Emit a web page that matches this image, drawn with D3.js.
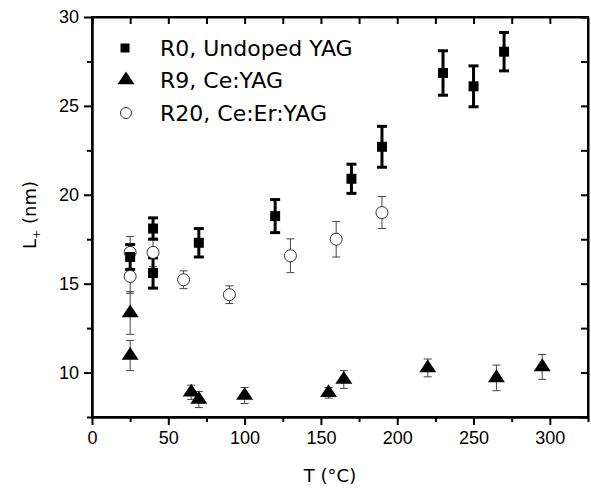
<!DOCTYPE html>
<html>
<head>
<meta charset="utf-8">
<script src="https://cdn.jsdelivr.net/npm/d3@7"></script>
<style>
  body { margin: 0; background: white; }
  svg { font-family: "DejaVu Sans", sans-serif; }
  .axis path, .axis line { stroke: black; stroke-width: 2; }
  .axis text { font-size: 18px; fill: black; }
</style>
</head>
<body>
<script>
// ---- data: [T (°C), L+ (nm), error] ----
const r0Temp  = [25, 40, 40, 70, 120, 170, 190, 230, 250, 270];
const r0L     = [16.5, 18.1, 15.6, 17.3, 18.8, 20.9, 22.7, 26.85, 26.1, 28.05];
const r0Err   = [0.7, 0.6, 0.85, 0.8, 0.93, 0.82, 1.15, 1.25, 1.15, 1.08];

const r9Temp  = [25, 25, 65, 70, 100, 155, 165, 220, 265, 295];
const r9L     = [13.35, 10.96, 8.89, 8.48, 8.71, 8.86, 9.61, 10.26, 9.7, 10.32];
const r9Err   = [1.2, 0.85, 0.4, 0.45, 0.45, 0.3, 0.5, 0.5, 0.72, 0.7];

const r20Temp = [25, 25, 40, 60, 90, 130, 160, 190];
const r20L    = [16.76, 15.41, 16.76, 15.22, 14.38, 16.57, 17.5, 19.0];
const r20Err  = [0.9, 0.95, 0.8, 0.5, 0.5, 0.95, 1.0, 0.9];

const legendLabels = ["R0, Undoped YAG", "R9, Ce:YAG", "R20, Ce:Er:YAG"];
const xMajor = [0, 50, 100, 150, 200, 250, 300];
const xMinor = [25, 75, 125, 175, 225, 275, 325];
const yMajor = [10, 15, 20, 25, 30];
const yMinor = [7.5, 12.5, 17.5, 22.5, 27.5];

const width = 591, height = 496;
const mLeft = 92, mRight = 588, mTop = 17, mBottom = 417;

const svg = d3.select("body").append("svg")
  .attr("width", width).attr("height", height);

const x = d3.scaleLinear().domain([0, 325]).range([mLeft, mRight]);
const y = d3.scaleLinear().domain([7.5, 30]).range([mBottom, mTop]);

// ---- axes ----
// bottom: labelled majors + minors, outward
svg.append("g").classed("axis", true)
  .attr("transform", "translate(0," + mBottom + ")")
  .call(d3.axisBottom(x).tickValues(xMajor).tickSize(8).tickPadding(6).tickSizeOuter(0));
svg.append("g").classed("axis", true)
  .attr("transform", "translate(0," + mBottom + ")")
  .call(d3.axisBottom(x).tickValues(xMinor).tickSize(5).tickFormat("").tickSizeOuter(0));
// left
svg.append("g").classed("axis", true)
  .attr("transform", "translate(" + mLeft + ",0)")
  .call(d3.axisLeft(y).tickValues(yMajor).tickSize(8).tickPadding(5).tickSizeOuter(0));
svg.append("g").classed("axis", true)
  .attr("transform", "translate(" + mLeft + ",0)")
  .call(d3.axisLeft(y).tickValues(yMinor).tickSize(5).tickFormat("").tickSizeOuter(0));
// top and right: inward ticks, no labels
svg.append("g").classed("axis", true)
  .attr("transform", "translate(0," + mTop + ")")
  .call(d3.axisBottom(x).tickValues(xMajor.concat(xMinor.slice(0, -1))).tickSize(7).tickFormat("").tickSizeOuter(0));
svg.append("g").classed("axis", true)
  .attr("transform", "translate(" + mRight + ",0)")
  .call(d3.axisLeft(y).tickValues(yMajor.concat(yMinor)).tickSize(7).tickFormat("").tickSizeOuter(0));

// frame
svg.append("rect")
  .attr("x", mLeft).attr("y", mTop)
  .attr("width", mRight - mLeft).attr("height", mBottom - mTop)
  .attr("fill", "none").attr("stroke", "black").attr("stroke-width", 2);

// axis labels
svg.append("text")
  .attr("x", 330).attr("y", 482)
  .attr("text-anchor", "middle")
  .style("font-size", "18px")
  .text("T (°C)");

const yl = svg.append("text")
  .attr("transform", "translate(36,215) rotate(-90)")
  .attr("text-anchor", "middle")
  .style("font-size", "18px");
yl.append("tspan").text("L");
yl.append("tspan").text("+").style("font-size", "11px").attr("dy", 4);
yl.append("tspan").text(" (nm)").attr("dy", -4);

// ---- error bars ----
function errorBars(tx, vals, errs, sw, cap, color) {
  const g = svg.append("g").attr("stroke", color).attr("stroke-width", sw);
  tx.forEach(function (t, i) {
    const cx = x(t), y1 = y(vals[i] + errs[i]), y2 = y(vals[i] - errs[i]);
    g.append("line").attr("x1", cx).attr("x2", cx).attr("y1", y1).attr("y2", y2);
    g.append("line").attr("x1", cx - cap).attr("x2", cx + cap).attr("y1", y1).attr("y2", y1);
    g.append("line").attr("x1", cx - cap).attr("x2", cx + cap).attr("y1", y2).attr("y2", y2);
  });
}
errorBars(r20Temp, r20L, r20Err, 1, 4, "#444");
errorBars(r9Temp, r9L, r9Err, 1, 4, "#444");
errorBars(r0Temp, r0L, r0Err, 3, 5, "black");

// ---- markers ----
const sq = d3.symbol().type(d3.symbolSquare).size(100);
const tri = d3.symbol().type(d3.symbolTriangle).size(95);

svg.selectAll(".r20").data(r20Temp).enter().append("circle")
  .attr("cx", function (d) { return x(d); })
  .attr("cy", function (d, i) { return y(r20L[i]); })
  .attr("r", 6)
  .attr("fill", "white").attr("stroke", "#333").attr("stroke-width", 1);

svg.selectAll(".r9").data(r9Temp).enter().append("path")
  .attr("d", tri)
  .attr("transform", function (d, i) { return "translate(" + x(d) + "," + y(r9L[i]) + ") scale(1.15,1)"; })
  .attr("fill", "black");

svg.selectAll(".r0").data(r0Temp).enter().append("path")
  .attr("d", sq)
  .attr("transform", function (d, i) { return "translate(" + x(d) + "," + y(r0L[i]) + ")"; })
  .attr("fill", "black");

// ---- legend ----
const lg = svg.append("g");
const legY = [48, 80, 113];
lg.append("path").attr("d", d3.symbol().type(d3.symbolSquare).size(81))
  .attr("transform", "translate(125," + legY[0] + ")");
lg.append("path").attr("d", d3.symbol().type(d3.symbolTriangle).size(95))
  .attr("transform", "translate(126," + legY[1] + ") scale(1.15,1)");
lg.append("circle").attr("cx", 126).attr("cy", legY[2]).attr("r", 5.5)
  .attr("fill", "white").attr("stroke", "#333");
legendLabels.forEach(function (t, i) {
  lg.append("text").attr("x", 160).attr("y", legY[i] + 8)
    .style("font-size", "22px").text(t);
});
</script>
</body>
</html>
